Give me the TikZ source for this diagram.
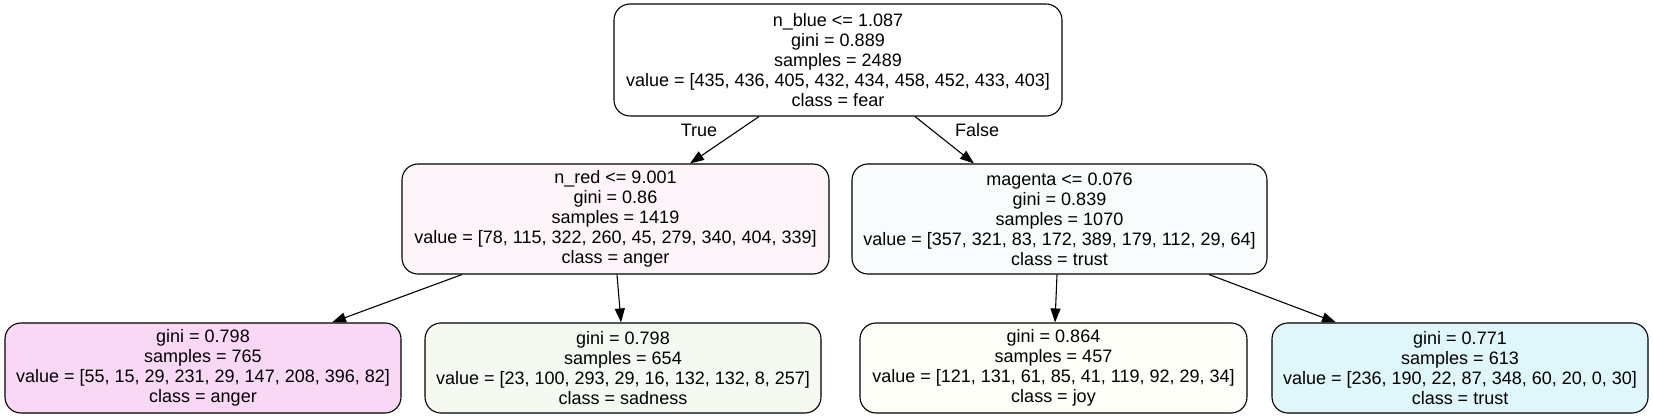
\documentclass[tikz,border=0pt]{standalone}
\usepackage{fontspec}
\setmainfont{Liberation Sans}
\usetikzlibrary{arrows.meta}
\definecolor{cnred}{RGB}{253,245,250}
\definecolor{cmag}{RGB}{248,252,253}
\definecolor{cleafa}{RGB}{249,216,245}
\definecolor{cleafb}{RGB}{244,250,242}
\definecolor{cleafc}{RGB}{253,254,248}
\definecolor{cleafd}{RGB}{223,246,250}
\tikzset{
  x=1pt,y=-1pt,
  tnode/.style={draw=black,line width=1.1pt,rounded corners=16pt,align=center,inner sep=0pt,
    font=\fontsize{18}{20}\selectfont},
  edge/.style={line width=1.1pt,-{Triangle[length=14pt,width=10pt]}},
  elabel/.style={font=\fontsize{18}{20}\selectfont}
}
\begin{document}
\begin{tikzpicture}
\useasboundingbox (0,0) rectangle (1653,419);
\node[tnode,minimum width=448pt,minimum height=112pt,fill=white] (root) at (838,60)
  {n\_blue <= 1.087\\gini = 0.889\\samples = 2489\\value = [435, 436, 405, 432, 434, 458, 452, 433, 403]\\class = fear};
\node[tnode,minimum width=427pt,minimum height=110pt,fill=cnred] (nred) at (615.5,219)
  {n\_red <= 9.001\\gini = 0.86\\samples = 1419\\value = [78, 115, 322, 260, 45, 279, 340, 404, 339]\\class = anger};
\node[tnode,minimum width=415pt,minimum height=110pt,fill=cmag] (mag) at (1059.5,219)
  {magenta <= 0.076\\gini = 0.839\\samples = 1070\\value = [357, 321, 83, 172, 389, 179, 112, 29, 64]\\class = trust};
\node[tnode,minimum width=396pt,minimum height=90pt,fill=cleafa] (la) at (203,368)
  {gini = 0.798\\samples = 765\\value = [55, 15, 29, 231, 29, 147, 208, 396, 82]\\class = anger};
\node[tnode,minimum width=396pt,minimum height=90pt,fill=cleafb] (lb) at (623,368)
  {gini = 0.798\\samples = 654\\value = [23, 100, 293, 29, 16, 132, 132, 8, 257]\\class = sadness};
\node[tnode,minimum width=387pt,minimum height=90pt,fill=cleafc] (lc) at (1053.5,368)
  {gini = 0.864\\samples = 457\\value = [121, 131, 61, 85, 41, 119, 92, 29, 34]\\class = joy};
\node[tnode,minimum width=376pt,minimum height=90pt,fill=cleafd] (ld) at (1460,368)
  {gini = 0.771\\samples = 613\\value = [236, 190, 22, 87, 348, 60, 20, 0, 30]\\class = trust};
\draw[edge] ([xshift=-79pt]root.south) -- ([xshift=74.5pt]nred.north);
\draw[edge] ([xshift=77pt]root.south) -- ([xshift=-85.5pt]mag.north);
\draw[edge] ([xshift=-153.5pt]nred.south) -- ([xshift=129pt]la.north);
\draw[edge] ([xshift=1.5pt]nred.south) -- ([xshift=-2pt]lb.north);
\draw[edge] ([xshift=-2.5pt]mag.south) -- ([xshift=1.5pt]lc.north);
\draw[edge] ([xshift=149.5pt]mag.south) -- ([xshift=-124pt]ld.north);
\node[elabel] (tl) at (699,130) {True};
\node[elabel] (fl) at (977,130) {False};
\end{tikzpicture}
\end{document}
